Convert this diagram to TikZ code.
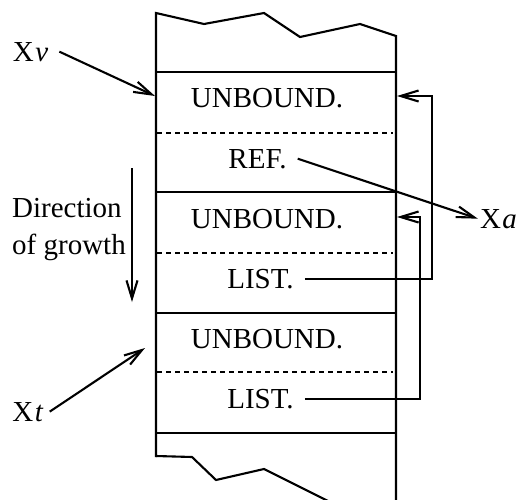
\documentclass[tikz,border=0pt]{standalone}
\usepackage{fontspec}
\setmainfont{Liberation Serif}
\usetikzlibrary{arrows.meta}
\begin{document}
\begin{tikzpicture}[x=1pt,y=-1pt,
  wall/.style={line width=2.1pt, line join=miter},
  sep/.style={line width=2.1pt, dash pattern=on 4.5pt off 4.5pt},
  conn/.style={line width=2.1pt, -{Straight Barb[length=18pt,width=11pt,line width=2.1pt]}},
  lbl/.style={font=\fontsize{29}{37}\selectfont, inner xsep=11pt, inner ysep=0pt, anchor=base}]
\useasboundingbox (0,0) rectangle (520,499);

% stack frame with torn top and bottom edges
\draw[wall] (156,457) -- (156,13) -- (204,24) -- (264,13) -- (300,37) -- (360,24) -- (396,36) -- (396,501);
\draw[wall] (156,456) -- (192,457) -- (216,480) -- (264,469) -- (328,501);

% cell boundaries
\foreach \y in {72,192,313,433} \draw[wall] (156,\y) -- (396,\y);
\foreach \y in {133,253,372} \draw[sep] (157,\y) -- (393,\y);

% cell contents
\node[lbl] (u1) at (267,107) {UNBOUND.};
\node[lbl] (ref) at (257.5,168) {REF.};
\node[lbl] (u2) at (267,228) {UNBOUND.};
\node[lbl] (l1) at (260.5,288) {LIST.};
\node[lbl] (u3) at (267,348) {UNBOUND.};
\node[lbl] (l2) at (260.5,408) {LIST.};

% registers
\node[lbl] (xv) at (30.5,61) {X\kern1.5pt\textit{v}};
\node[lbl, inner xsep=6pt] (xt) at (28,421) {X\kern1.5pt\textit{t}};
\node[lbl, inner xsep=2pt] (xa) at (498.5,228) {X\kern1.5pt\textit{a}};

\coordinate (vtip) at (155,96);
\coordinate (ttip) at (145,348);
\draw[conn] (xv.east) -- (vtip);
\draw[conn] (xt.east) -- (ttip);
\draw[conn] (ref.east) -- (xa.west);

% list pointers back to the unbound cells
\coordinate (r1) at (432,96);
\coordinate (w1) at (397,96);
\coordinate (r2) at (420,217);
\coordinate (w2) at (397,217);
\draw[conn] (l1.east) -| (r1) -- (w1);
\draw[conn] (l2.east) -| (r2) -- (w2);

% direction of growth
\node[lbl, anchor=base west, inner xsep=0pt] (d1) at (12,217) {Direction};
\node[lbl, anchor=base west, inner xsep=0pt] (d2) at (12,254) {of growth};
\coordinate (g1) at (132,168);
\coordinate (g2) at (132,302);
\draw[conn] (g1) -- (g2);
\end{tikzpicture}
\end{document}
